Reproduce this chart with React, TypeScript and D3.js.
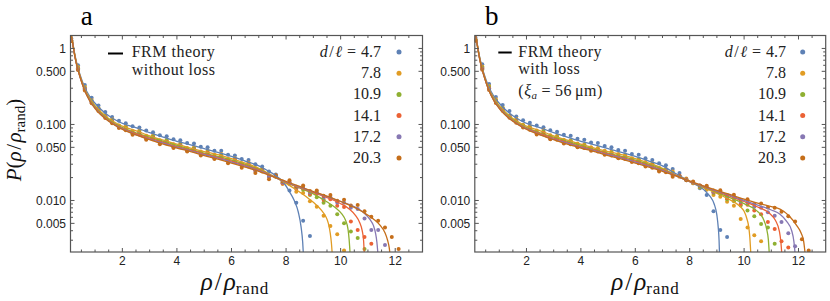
import React from "react";
import * as d3 from "d3";

// ---------- data ----------
const COLORS = ["#5E81B5", "#E19C24", "#8FB032", "#EB6235", "#8778B3", "#C56E1A"];
const D_OVER_ELL = ["4.7", "7.8", "10.9", "14.1", "17.2", "20.3"];
const X_TICKS = [2, 4, 6, 8, 10, 12];
const Y_TICKS = [1, 0.5, 0.1, 0.05, 0.01, 0.005];
const Y_TICK_LABELS = ["1", "0.500", "0.100", "0.050", "0.010", "0.005"];

// theory curves: shared small-density part
const BODY_X = [0.12, 0.16, 0.2, 0.27, 0.35, 0.45, 0.6, 0.8, 1.0, 1.2, 1.5, 1.8, 2.1, 2.4, 3.0, 3.5, 4.0, 4.5, 5.0, 5.5, 6.0, 6.5];
const BODY_47 = [1.55, 1.35, 1.1, 0.8, 0.6, 0.45, 0.32, 0.235, 0.19, 0.16, 0.13, 0.112, 0.1, 0.093, 0.078, 0.068, 0.06, 0.054, 0.048, 0.043, 0.038, 0.033];
const BODY_78 = [1.53, 1.33, 1.08, 0.78, 0.58, 0.435, 0.305, 0.222, 0.177, 0.148, 0.12, 0.103, 0.092, 0.085, 0.071, 0.062, 0.055, 0.049, 0.044, 0.04, 0.0355, 0.031];
const BODY_109 = [1.52, 1.32, 1.07, 0.77, 0.57, 0.43, 0.3, 0.215, 0.171, 0.143, 0.116, 0.099, 0.088, 0.08, 0.068, 0.06, 0.053, 0.047, 0.042, 0.038, 0.034, 0.0298];
const BODY_141 = [1.51, 1.31, 1.06, 0.76, 0.565, 0.425, 0.295, 0.21, 0.167, 0.139, 0.113, 0.097, 0.086, 0.078, 0.066, 0.058, 0.051, 0.046, 0.041, 0.037, 0.033, 0.029];
const BODY_172 = [1.5, 1.3, 1.055, 0.755, 0.56, 0.42, 0.292, 0.207, 0.164, 0.137, 0.111, 0.095, 0.084, 0.076, 0.064, 0.057, 0.05, 0.045, 0.04, 0.036, 0.032, 0.0283];
const BODY_203 = [1.5, 1.3, 1.05, 0.75, 0.56, 0.42, 0.29, 0.205, 0.162, 0.135, 0.11, 0.094, 0.083, 0.075, 0.063, 0.055, 0.049, 0.044, 0.039, 0.035, 0.031, 0.0275];

// panel a: theory without loss, large-density tails
const TAIL_A_47 = [[7.0, 0.0285], [7.3, 0.025], [7.6, 0.0215], [7.9, 0.0175], [8.1, 0.0135], [8.3, 0.01], [8.45, 0.007], [8.55, 0.0045], [8.61, 0.0028], [8.64, 0.0018]];
const TAIL_A_78 = [[7.0, 0.0265], [7.5, 0.0212], [8.0, 0.0168], [8.4, 0.0136], [8.81, 0.0107], [9.1, 0.0088], [9.3, 0.0074], [9.45, 0.0062], [9.55, 0.005], [9.62, 0.0037], [9.66, 0.0028], [9.7, 0.0018]];
const TAIL_A_109 = [[7.0, 0.0258], [7.5, 0.021], [8.0, 0.0171], [8.5, 0.0146], [9.0, 0.0122], [9.49, 0.0096], [9.8, 0.0081], [10.05, 0.0066], [10.18, 0.0055], [10.27, 0.0042], [10.31, 0.0031], [10.35, 0.0019]];
const TAIL_A_141 = [[7.0, 0.0252], [7.5, 0.0209], [8.0, 0.0173], [8.5, 0.0148], [9.0, 0.0127], [9.5, 0.0109], [9.97, 0.0092], [10.3, 0.0078], [10.55, 0.0063], [10.7, 0.0051], [10.79, 0.004], [10.84, 0.003], [10.87, 0.0019]];
const TAIL_A_172 = [[7.0, 0.0247], [7.5, 0.0208], [8.0, 0.0175], [8.5, 0.015], [9.0, 0.013], [9.5, 0.0112], [10.0, 0.0097], [10.59, 0.008], [10.85, 0.0069], [11.08, 0.0056], [11.2, 0.0047], [11.28, 0.0037], [11.33, 0.0028], [11.37, 0.0019]];
const TAIL_A_203 = [[7.0, 0.0242], [7.5, 0.0207], [8.0, 0.0178], [8.5, 0.0153], [9.0, 0.0131], [9.5, 0.0114], [10.0, 0.0097], [10.35, 0.0086], [10.8, 0.0071], [11.2, 0.0057], [11.45, 0.0047], [11.62, 0.0038], [11.72, 0.003], [11.78, 0.0024], [11.82, 0.0018]];

// panel b: theory with loss, large-density tails
const TAIL_B_47 = [[7.0, 0.0285], [7.4, 0.0235], [7.8, 0.0195], [8.1, 0.017], [8.39, 0.015], [8.6, 0.013], [8.75, 0.0113], [8.9, 0.009], [9.0, 0.0064], [9.05, 0.0044], [9.08, 0.003], [9.1, 0.0018]];
const TAIL_B_78 = [[7.0, 0.0265], [7.5, 0.0215], [8.0, 0.018], [8.5, 0.0148], [9.0, 0.0124], [9.5, 0.0101], [9.85, 0.0084], [10.0, 0.0072], [10.1, 0.0058], [10.17, 0.0045], [10.21, 0.0033], [10.25, 0.0019]];
const TAIL_B_109 = [[7.0, 0.0258], [7.5, 0.0213], [8.0, 0.0177], [8.5, 0.015], [9.0, 0.0128], [9.5, 0.0108], [10.0, 0.0091], [10.47, 0.0073], [10.7, 0.0058], [10.83, 0.0042], [10.89, 0.0031], [10.93, 0.0019]];
const TAIL_B_141 = [[7.0, 0.0252], [7.5, 0.0212], [8.0, 0.0177], [8.5, 0.0152], [9.0, 0.0131], [9.5, 0.0113], [10.0, 0.0097], [10.5, 0.0082], [10.95, 0.0067], [11.15, 0.0055], [11.3, 0.0039], [11.35, 0.0029], [11.39, 0.0019]];
const TAIL_B_172 = [[7.0, 0.0247], [7.5, 0.0211], [8.0, 0.0178], [8.5, 0.0154], [9.0, 0.0133], [9.5, 0.0116], [10.0, 0.01], [10.5, 0.0087], [11.0, 0.0075], [11.32, 0.0066], [11.55, 0.0054], [11.75, 0.004], [11.83, 0.0029], [11.88, 0.0019]];
const TAIL_B_203 = [[7.0, 0.0242], [7.5, 0.021], [8.0, 0.018], [8.5, 0.0156], [9.0, 0.0136], [9.5, 0.0119], [10.0, 0.0104], [10.5, 0.0092], [11.0, 0.0083], [11.32, 0.0077], [11.65, 0.0063], [11.93, 0.0047], [12.1, 0.0037], [12.19, 0.0029], [12.25, 0.0019]];

// histogram points (bin width 0.25, first bin centre 0.125)
const BIN_START = 0.125;
const BIN_WIDTH = 0.25;

const DOTS_A_47 = [1.36, 0.6, 0.33, 0.225, 0.178, 0.146, 0.125, 0.112, 0.104, 0.095, 0.091, 0.083, 0.079, 0.072, 0.07, 0.064, 0.062, 0.057, 0.056, 0.051, 0.05, 0.045, 0.045, 0.04, 0.039, 0.035, 0.034, 0.03, 0.028, 0.024, 0.022, 0.0175, 0.0135, 0.0093, 0.0054, 0.0034];
const DOTS_A_78 = [1.3, 0.57, 0.31, 0.21, 0.165, 0.128, 0.118, 0.097, 0.095, 0.082, 0.084, 0.071, 0.072, 0.062, 0.063, 0.055, 0.056, 0.049, 0.05, 0.044, 0.045, 0.04, 0.041, 0.035, 0.036, 0.031, 0.0315, 0.0265, 0.026, 0.0215, 0.0205, 0.0165, 0.0165, 0.013, 0.0125, 0.0098, 0.0083, 0.0063, 0.0046, 0.0036, 0.0022];
const DOTS_A_109 = [1.28, 0.55, 0.3, 0.2, 0.162, 0.13, 0.112, 0.096, 0.09, 0.078, 0.079, 0.068, 0.069, 0.06, 0.061, 0.053, 0.054, 0.047, 0.048, 0.042, 0.043, 0.038, 0.039, 0.034, 0.035, 0.03, 0.0305, 0.026, 0.0255, 0.021, 0.0205, 0.017, 0.017, 0.0145, 0.0138, 0.0118, 0.011, 0.0093, 0.0085, 0.0066, 0.005, 0.0039, 0.0032, 0.0023];
const DOTS_A_141 = [1.27, 0.54, 0.295, 0.198, 0.158, 0.127, 0.109, 0.094, 0.088, 0.077, 0.077, 0.066, 0.067, 0.058, 0.059, 0.051, 0.053, 0.046, 0.047, 0.041, 0.042, 0.037, 0.038, 0.033, 0.034, 0.029, 0.03, 0.025, 0.025, 0.0205, 0.021, 0.0168, 0.0172, 0.0143, 0.0145, 0.0122, 0.0123, 0.0102, 0.0104, 0.0085, 0.0082, 0.0053, 0.0041, 0.0033, 0.0027];
const DOTS_A_172 = [1.26, 0.53, 0.29, 0.196, 0.155, 0.125, 0.107, 0.092, 0.086, 0.075, 0.076, 0.065, 0.066, 0.057, 0.058, 0.05, 0.052, 0.045, 0.046, 0.04, 0.041, 0.036, 0.037, 0.032, 0.033, 0.0285, 0.029, 0.0245, 0.0245, 0.0205, 0.021, 0.0172, 0.0175, 0.0148, 0.015, 0.0127, 0.0128, 0.0108, 0.011, 0.0094, 0.0093, 0.008, 0.0077, 0.0058, 0.0041, 0.0041, 0.0026];
const DOTS_A_203 = [1.25, 0.52, 0.28, 0.19, 0.15, 0.122, 0.104, 0.09, 0.084, 0.073, 0.074, 0.063, 0.064, 0.055, 0.056, 0.049, 0.05, 0.044, 0.045, 0.039, 0.04, 0.035, 0.036, 0.031, 0.032, 0.027, 0.028, 0.023, 0.024, 0.019, 0.0215, 0.0178, 0.0185, 0.0152, 0.0158, 0.0133, 0.0135, 0.0115, 0.0118, 0.0099, 0.0102, 0.0086, 0.0087, 0.0072, 0.0061, 0.0054, 0.0044, 0.0033, 0.0023];

const DOTS_B_47 = [1.38, 0.62, 0.34, 0.23, 0.18, 0.15, 0.127, 0.114, 0.105, 0.097, 0.092, 0.084, 0.08, 0.073, 0.071, 0.065, 0.063, 0.058, 0.057, 0.052, 0.05, 0.046, 0.045, 0.041, 0.04, 0.036, 0.034, 0.031, 0.029, 0.026, 0.023, 0.0185, 0.0168, 0.0145, 0.0118, 0.0072, 0.0041, 0.0033];
const DOTS_B_78 = [1.32, 0.58, 0.32, 0.215, 0.166, 0.13, 0.119, 0.099, 0.096, 0.083, 0.085, 0.072, 0.071, 0.063, 0.062, 0.056, 0.055, 0.05, 0.049, 0.045, 0.044, 0.041, 0.04, 0.036, 0.035, 0.032, 0.031, 0.027, 0.026, 0.024, 0.0205, 0.0195, 0.0168, 0.0148, 0.0138, 0.0118, 0.0112, 0.0096, 0.0085, 0.0057, 0.0044, 0.0035, 0.0029];
const DOTS_B_109 = [1.3, 0.56, 0.31, 0.205, 0.163, 0.131, 0.113, 0.097, 0.091, 0.079, 0.08, 0.069, 0.068, 0.061, 0.06, 0.054, 0.053, 0.048, 0.047, 0.043, 0.042, 0.039, 0.038, 0.035, 0.034, 0.0305, 0.03, 0.026, 0.0255, 0.023, 0.021, 0.019, 0.0172, 0.015, 0.0145, 0.0125, 0.0122, 0.0104, 0.0098, 0.0086, 0.0074, 0.0062, 0.0049, 0.0044, 0.0027];
const DOTS_B_141 = [1.28, 0.545, 0.3, 0.2, 0.159, 0.128, 0.11, 0.095, 0.089, 0.077, 0.078, 0.067, 0.066, 0.059, 0.058, 0.052, 0.051, 0.047, 0.046, 0.042, 0.041, 0.038, 0.037, 0.034, 0.033, 0.0295, 0.029, 0.0255, 0.025, 0.022, 0.0212, 0.019, 0.0172, 0.0155, 0.0146, 0.0128, 0.0126, 0.0108, 0.0106, 0.009, 0.0088, 0.0074, 0.0066, 0.0052, 0.0042, 0.0029, 0.0024];
const DOTS_B_172 = [1.27, 0.535, 0.292, 0.197, 0.156, 0.126, 0.108, 0.093, 0.087, 0.076, 0.076, 0.065, 0.065, 0.057, 0.057, 0.051, 0.05, 0.046, 0.045, 0.041, 0.04, 0.037, 0.036, 0.033, 0.032, 0.029, 0.028, 0.025, 0.0245, 0.0215, 0.021, 0.0188, 0.0175, 0.0157, 0.0152, 0.013, 0.013, 0.0113, 0.0112, 0.0096, 0.0095, 0.0083, 0.008, 0.007, 0.0063, 0.0052, 0.0037, 0.0025];
const DOTS_B_203 = [1.26, 0.525, 0.283, 0.192, 0.152, 0.123, 0.105, 0.091, 0.085, 0.074, 0.075, 0.064, 0.063, 0.056, 0.055, 0.05, 0.049, 0.045, 0.044, 0.04, 0.039, 0.036, 0.035, 0.032, 0.031, 0.028, 0.027, 0.024, 0.0235, 0.0205, 0.021, 0.0185, 0.0178, 0.0158, 0.0156, 0.0135, 0.0136, 0.0118, 0.0119, 0.0102, 0.0104, 0.009, 0.0091, 0.0081, 0.008, 0.0071, 0.0062, 0.0053, 0.0031, 0.0022];

const BODIES = [BODY_47, BODY_78, BODY_109, BODY_141, BODY_172, BODY_203];
const TAILS_A = [TAIL_A_47, TAIL_A_78, TAIL_A_109, TAIL_A_141, TAIL_A_172, TAIL_A_203];
const TAILS_B = [TAIL_B_47, TAIL_B_78, TAIL_B_109, TAIL_B_141, TAIL_B_172, TAIL_B_203];
const DOTS_A = [DOTS_A_47, DOTS_A_78, DOTS_A_109, DOTS_A_141, DOTS_A_172, DOTS_A_203];
const DOTS_B = [DOTS_B_47, DOTS_B_78, DOTS_B_109, DOTS_B_141, DOTS_B_172, DOTS_B_203];

// ---------- layout ----------
const W = 830;
const H = 301;
const X_DOMAIN: [number, number] = [0.1, 13];
const Y_DOMAIN: [number, number] = [0.0021, 1.48];
const PLOT_TOP = 35.5;
const PLOT_BOTTOM = 252;
const FRAME = "#555";
const SERIF = "'Liberation Serif', 'Times New Roman', serif";
const SANS = "'Liberation Sans', Arial, Helvetica, sans-serif";

const yScale = d3.scaleLog().domain(Y_DOMAIN).range([PLOT_BOTTOM, PLOT_TOP]);

const yMinor: number[] = [];
[1, 0.1, 0.01, 0.001].forEach((dec) => {
  [2, 3, 4, 6, 7, 8, 9].forEach((m) => {
    const v = m * dec;
    if (v > Y_DOMAIN[0] && v < Y_DOMAIN[1]) yMinor.push(v);
  });
});
const xMinor = d3.range(0.5, 13, 0.5).filter((v) => Math.abs(v / 2 - Math.round(v / 2)) > 1e-9);

type PanelProps = {
  id: string;
  x0: number;
  x1: number;
  letter: string;
  letterX: number;
  tails: number[][][];
  dots: number[][];
  legendDash: [number, number, number];
  legendTextX: number;
  legendLines: React.ReactNode[];
  legendBaselines: number[];
  seriesRight: number;
  seriesDotX: number;
  xLabelX: number;
};

function Panel(p: PanelProps) {
  const x = d3.scaleLinear().domain(X_DOMAIN).range([p.x0, p.x1]);
  const line = d3
    .line<number[]>()
    .x((d) => x(d[0]))
    .y((d) => yScale(d[1]))
    .curve(d3.curveMonotoneX);

  const curves = BODIES.map((b, i) => [
    ...BODY_X.map((bx, j) => [bx, b[j]]),
    ...p.tails[i],
  ]);

  const tk = 4;
  const tkm = 2.5;
  const legendDotY = [52, 73.2, 94.4, 115.6, 136.8, 158];

  return (
    <g>
      <defs>
        <clipPath id={`clip-${p.id}`}>
          <rect x={p.x0} y={PLOT_TOP} width={p.x1 - p.x0} height={PLOT_BOTTOM - PLOT_TOP} />
        </clipPath>
      </defs>

      {/* data */}
      <g clipPath={`url(#clip-${p.id})`}>
        {p.dots.map((arr, i) =>
          arr.map((v, k) => (
            <circle key={`d${i}-${k}`} cx={x(BIN_START + BIN_WIDTH * k)} cy={yScale(v)} r={2} fill={COLORS[i]} />
          ))
        )}
        {curves.map((c, i) => (
          <path key={`c${i}`} d={line(c) || ""} fill="none" stroke={COLORS[i]} strokeWidth={1.3} />
        ))}
      </g>

      {/* frame */}
      <rect x={p.x0} y={PLOT_TOP} width={p.x1 - p.x0} height={PLOT_BOTTOM - PLOT_TOP} fill="none" stroke={FRAME} strokeWidth={1.2} />

      {/* x ticks */}
      {X_TICKS.map((t) => (
        <g key={`xt${t}`}>
          <line x1={x(t)} x2={x(t)} y1={PLOT_BOTTOM} y2={PLOT_BOTTOM - tk} stroke={FRAME} />
          <line x1={x(t)} x2={x(t)} y1={PLOT_TOP} y2={PLOT_TOP + tk} stroke={FRAME} />
          <text x={x(t)} y={PLOT_BOTTOM + 12.5} fontFamily={SANS} fontSize={12} textAnchor="middle" fill="#222">
            {t}
          </text>
        </g>
      ))}
      {xMinor.map((t) => (
        <g key={`xm${t}`}>
          <line x1={x(t)} x2={x(t)} y1={PLOT_BOTTOM} y2={PLOT_BOTTOM - tkm} stroke={FRAME} />
          <line x1={x(t)} x2={x(t)} y1={PLOT_TOP} y2={PLOT_TOP + tkm} stroke={FRAME} />
        </g>
      ))}

      {/* y ticks */}
      {Y_TICKS.map((t, i) => (
        <g key={`yt${t}`}>
          <line x1={p.x0} x2={p.x0 + tk} y1={yScale(t)} y2={yScale(t)} stroke={FRAME} />
          <line x1={p.x1} x2={p.x1 - tk} y1={yScale(t)} y2={yScale(t)} stroke={FRAME} />
          <text x={p.x0 - 4.5} y={yScale(t) + 4.2} fontFamily={SANS} fontSize={12} textAnchor="end" fill="#222">
            {Y_TICK_LABELS[i]}
          </text>
        </g>
      ))}
      {yMinor.map((t) => (
        <g key={`ym${t}`}>
          <line x1={p.x0} x2={p.x0 + tkm} y1={yScale(t)} y2={yScale(t)} stroke={FRAME} />
          <line x1={p.x1} x2={p.x1 - tkm} y1={yScale(t)} y2={yScale(t)} stroke={FRAME} />
        </g>
      ))}

      {/* panel letter */}
      <text x={p.letterX} y={24.5} fontFamily={SERIF} fontSize={27} textAnchor="middle" fill="#000">
        {p.letter}
      </text>

      {/* theory legend */}
      <line x1={p.legendDash[0]} x2={p.legendDash[1]} y1={p.legendDash[2]} y2={p.legendDash[2]} stroke="#000" strokeWidth={2} />
      {p.legendLines.map((l, i) => (
        <text key={`ll${i}`} x={p.legendTextX} y={p.legendBaselines[i]} fontFamily={SERIF} fontSize={16} letterSpacing={0.5} fill="#222">
          {l}
        </text>
      ))}

      {/* series legend */}
      {D_OVER_ELL.map((lab, i) => (
        <g key={`sl${i}`}>
          <text x={p.seriesRight} y={legendDotY[i] + 5} fontFamily={SERIF} fontSize={16} textAnchor="end" fill="#222">
            {i === 0 ? (
              <>
                <tspan fontStyle="italic">d</tspan>
                <tspan dx={1.5}>/</tspan>
                <tspan dx={1.5} fontStyle="italic">ℓ</tspan>
                <tspan dx={5}>=</tspan>
                <tspan dx={5}>{lab}</tspan>
              </>
            ) : (
              lab
            )}
          </text>
          <circle cx={p.seriesDotX} cy={legendDotY[i]} r={2.5} fill={COLORS[i]} />
        </g>
      ))}

      {/* x label */}
      <text x={p.xLabelX} y={290} fontFamily={SERIF} fontSize={25} textAnchor="middle" fill="#111">
        <tspan fontStyle="italic">ρ</tspan>
        <tspan dx={2}>/</tspan>
        <tspan dx={2} fontStyle="italic">ρ</tspan>
        <tspan fontSize={17} dy={4} letterSpacing={0.8}>rand</tspan>
      </text>
    </g>
  );
}

export default function App() {
  return (
    <svg width={W} height={H} style={{ position: "absolute", left: 0, top: 0, background: "#fff" }}>
      <rect x={0} y={0} width={W} height={H} fill="#fff" />
      <Panel
        id="a"
        x0={70.5}
        x1={422.5}
        letter="a"
        letterX={86.7}
        tails={TAILS_A}
        dots={DOTS_A}
        legendDash={[108, 123, 53.5]}
        legendTextX={131.7}
        legendLines={["FRM theory", "without loss"]}
        legendBaselines={[57.3, 74.8]}
        seriesRight={381}
        seriesDotX={399}
        xLabelX={235}
      />
      <Panel
        id="b"
        x0={474.8}
        x1={825.7}
        letter="b"
        letterX={491.7}
        tails={TAILS_B}
        dots={DOTS_B}
        legendDash={[498.3, 511.7, 52.5]}
        legendTextX={518.3}
        legendLines={[
          "FRM theory",
          "with loss",
          <>
            <tspan>(</tspan>
            <tspan fontStyle="italic">ξ</tspan>
            <tspan fontStyle="italic" fontSize={11} dy={3}>a</tspan>
            <tspan dy={-3} dx={4}>=</tspan>
            <tspan dx={4}>56</tspan>
            <tspan dx={3}>μm)</tspan>
          </>,
        ]}
        legendBaselines={[56.5, 74, 96]}
        seriesRight={786}
        seriesDotX={802.7}
        xLabelX={645.5}
      />
      {/* y label */}
      <text transform="translate(20.5,140) rotate(-90)" fontFamily={SERIF} fontSize={21} textAnchor="middle" fill="#111">
        <tspan fontStyle="italic">P</tspan>
        <tspan>(</tspan>
        <tspan fontStyle="italic">ρ</tspan>
        <tspan dx={1.5}>/</tspan>
        <tspan dx={1.5} fontStyle="italic">ρ</tspan>
        <tspan fontSize={15} dy={4}>rand</tspan>
        <tspan dy={-4}>)</tspan>
      </text>
    </svg>
  );
}
